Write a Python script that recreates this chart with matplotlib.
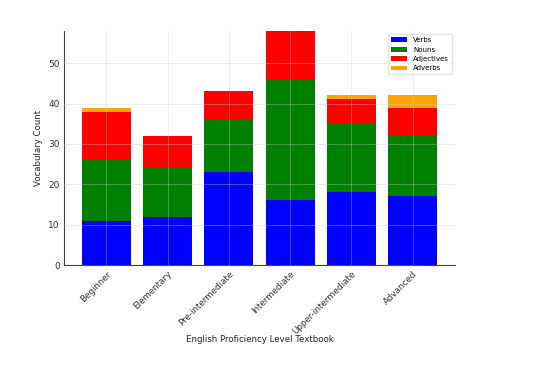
import matplotlib.pyplot as plt
import numpy as np

levels = ["Beginner", "Elementary", "Pre-intermediate", "Intermediate",
          "Upper-intermediate", "Advanced"]
verbs = [11, 12, 23, 16, 18, 17]
nouns = [15, 12, 13, 30, 17, 15]
adjectives = [12, 8, 7, 12, 6, 7]
adverbs = [1, 0, 0, 0, 1, 3]

fig = plt.figure(figsize=(5.43, 3.76), dpi=100)
ax = fig.add_axes([0.118, 0.295, 0.72, 0.623])

x = np.arange(len(levels))
b1 = np.array(verbs)
b2 = b1 + np.array(nouns)
b3 = b2 + np.array(adjectives)
totals = b3 + np.array(adverbs)

ax.bar(x, verbs, color="blue", label="Verbs")
ax.bar(x, nouns, bottom=b1, color="green", label="Nouns")
ax.bar(x, adjectives, bottom=b2, color="red", label="Adjectives")
ax.bar(x, adverbs, bottom=b3, color="orange", label="Adverbs")

ax.set_ylim(0, totals.max())
ax.set_yticks([0, 10, 20, 30, 40, 50])
ax.set_xticks(x)
ax.set_xticklabels(levels, rotation=45, ha="right", rotation_mode="anchor", fontsize=6.3)
ax.tick_params(axis="y", labelsize=6.5)
ax.tick_params(length=0, pad=3, colors="#333333")
ax.grid(True, color="#cccccc", alpha=0.4, linewidth=0.6)
ax.set_axisbelow(False)
for s in ["top", "right"]:
    ax.spines[s].set_visible(False)
for s in ["left", "bottom"]:
    ax.spines[s].set_color("#444444")

ax.set_xlabel("English Proficiency Level Textbook", fontsize=6.2, color="#222222", labelpad=-1)
ax.set_ylabel("Vocabulary Count", fontsize=6.2, color="#222222")
ax.legend(loc="upper right", fontsize=5, framealpha=0.8, edgecolor="#dddddd",
          fancybox=False, handlelength=2.4)

plt.savefig("out.png", dpi=100)
plt.close()
